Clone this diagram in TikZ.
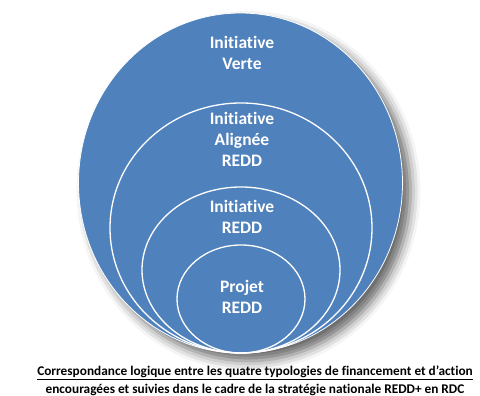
\documentclass[tikz,border=0pt]{standalone}
\usepackage{fontspec}
\setmainfont{Carlito}[Ligatures=NoCommon]
\usepackage{xcolor}
\usetikzlibrary{shadows.blur}
\definecolor{redblue}{HTML}{4F81BD}

\begin{document}
\begin{tikzpicture}[x=1pt,y=1pt,
  ring/.style={draw=white,line width=1.3pt},
  label/.style={text=white,font=\bfseries\fontsize{17.5}{21}\selectfont,align=center}]
\useasboundingbox (0,0) rectangle (480,396);

% outer shape with its shadow
\draw[ring,line width=0.8pt,fill=redblue,
  blur shadow={shadow xshift=8pt,shadow yshift=-8pt,shadow blur radius=10pt,shadow opacity=60}]
  (240.5,213) ellipse (162 and 170);

% nested rings, all touching at the bottom
\draw[ring] (241,168) ellipse (131 and 125);
\draw[ring] (241,126) ellipse (99 and 83);
\draw[ring] (241,97) ellipse (64 and 54);

\node[label] (verte) at (242,343) {Initiative\\Verte};
\node[label] (alignee) at (242,257) {Initiative\\Align\'ee\\REDD};
\node[label] (initredd) at (242,179) {Initiative\\REDD};
\node[label] (projet) at (242,99) {Projet\\REDD};

% caption
\node[font=\bfseries\fontsize{13.3}{17.5}\selectfont,align=center] (legende) at (255,14)
  {\underline{Correspondance logique entre les quatre typologies de financement et d’action}\\
   \underline{encouragées et suivies dans le cadre de la stratégie nationale REDD+ en RDC}};
\end{tikzpicture}
\end{document}
